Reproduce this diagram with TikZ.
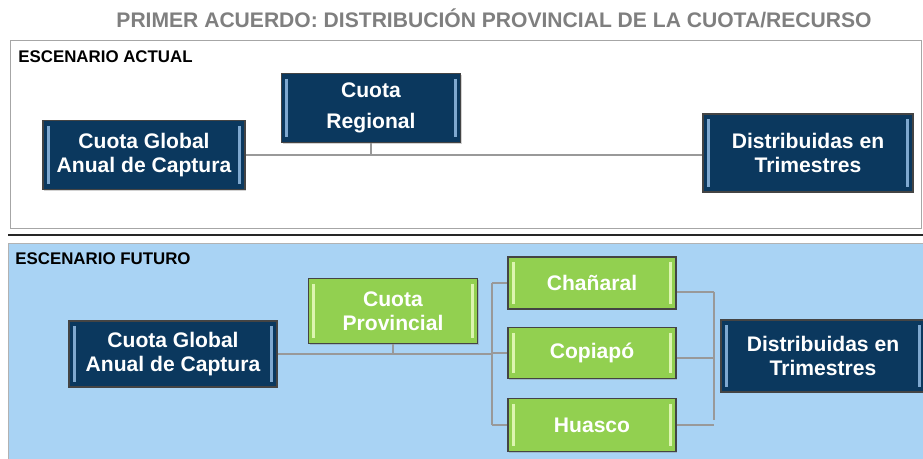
\documentclass[tikz,border=0pt]{standalone}
\usepackage{fontspec}
\setmainfont{Liberation Sans}
\usetikzlibrary{calc,positioning,shadows}

\definecolor{navy}{HTML}{0B385E}
\definecolor{navyhi}{HTML}{7FA8CF}
\definecolor{leaf}{HTML}{92D050}
\definecolor{leafhi}{HTML}{DDF5B0}
\definecolor{boxedge}{HTML}{444444}
\definecolor{linkgray}{HTML}{999999}
\definecolor{panelblue}{HTML}{A9D3F4}
\definecolor{titlegray}{HTML}{7F7F7F}

\newcommand{\px}{0.02cm}

\tikzset{
  bevel/.style={path picture={
    \draw[#1, line width=1.6pt]
      ([shift={(3pt,-3pt)}]path picture bounding box.north west) --
      ([shift={(3pt,3pt)}]path picture bounding box.south west);
    \draw[#1, line width=1.6pt]
      ([shift={(-3pt,-3pt)}]path picture bounding box.north east) --
      ([shift={(-3pt,3pt)}]path picture bounding box.south east);
  }},
  box/.style={draw=boxedge, line width=0.9pt, text=white, align=center,
    inner sep=0pt, font=\bfseries\fontsize{12}{13.6}\selectfont,
    drop shadow={opacity=0.35, shadow xshift=0.8pt, shadow yshift=-0.8pt}},
  navybox/.style={box, fill=navy, bevel=navyhi},
  leafbox/.style={box, fill=leaf, bevel=leafhi},
  link/.style={draw=linkgray, line width=1.6pt},
  heading/.style={anchor=west, inner sep=0pt, font=\bfseries\fontsize{9.6}{11}\selectfont}
}

\begin{document}
\begin{tikzpicture}[x=\px, y=-\px]
  \useasboundingbox (0,0) rectangle (923,459);

  % title
  \node [inner sep=0pt, text=titlegray, font=\bfseries\fontsize{12}{13}\selectfont] (title) at (494,18)
    {PRIMER ACUERDO: DISTRIBUCIÓN PROVINCIAL DE LA CUOTA/RECURSO};

  % panels
  \draw [gray!70, fill=white] (10,40) rectangle (921,228);
  \draw [black!85, line width=1.6pt] (8,235) -- (923,235);
  \draw [gray!60, fill=panelblue] (8,243) rectangle (925,461);

  \node [heading] (actual) at (18,57) {ESCENARIO ACTUAL};
  \node [heading] (futuro) at (15,259) {ESCENARIO FUTURO};

  % escenario actual
  \node [navybox, minimum width=202*\px, minimum height=69*\px] (glob1) at (144,155) {Cuota Global\\Anual de Captura};
  \node [navybox, minimum width=179*\px, minimum height=69*\px] (reg1) at (371,108) {Cuota\\[4pt]Regional};
  \node [navybox, minimum width=210*\px, minimum height=78*\px] (dist1) at (808,153) {Distribuidas en\\Trimestres};

  \draw [link] (glob1.east) -- (glob1.east -| dist1.west);
  \draw [link] (reg1.south) -- (reg1.south |- glob1.east);

  % escenario futuro
  \node [navybox, minimum width=208*\px, minimum height=66*\px] (glob2) at (173,354) {Cuota Global\\Anual de Captura};
  \node [leafbox, minimum width=169*\px, minimum height=65*\px] (prov) at (393,311) {Cuota\\Provincial};
  \node [leafbox, minimum width=168*\px, minimum height=52*\px] (chan) at (592,283) {Chañaral};
  \node [leafbox, minimum width=168*\px, minimum height=51*\px] (copi) at (592,353) {Copiapó};
  \node [leafbox, minimum width=168*\px, minimum height=53*\px] (huas) at (592,425) {Huasco};
  \node [navybox, minimum width=204*\px, minimum height=72*\px] (dist2) at (823,356) {Distribuidas en\\Trimestres};

  \coordinate (split) at (492,354);
  \coordinate (join) at (714,356);

  \draw [link] (glob2.east) -- (split);
  \draw [link] (prov.south) -- (prov.south |- glob2.east);
  \draw [link] (split |- chan.west) -- (split |- huas.west);
  \draw [link] (split |- chan.west) -- (chan.west);
  \draw [link] (split |- copi.west) -- (copi.west);
  \draw [link] (split |- huas.west) -- (huas.west);
  \draw [link] ([yshift=-9*\px]chan.east) -- ([yshift=-9*\px]chan.east -| join);
  \draw [link] ([yshift=-5*\px]copi.east) -- ([yshift=-5*\px]copi.east -| join);
  \draw [link] (huas.east) -- (huas.east -| join);
  \draw [link] ([yshift=-9*\px]chan.east -| join) -- ([yshift=5*\px]huas.east -| join);
\end{tikzpicture}
\end{document}
